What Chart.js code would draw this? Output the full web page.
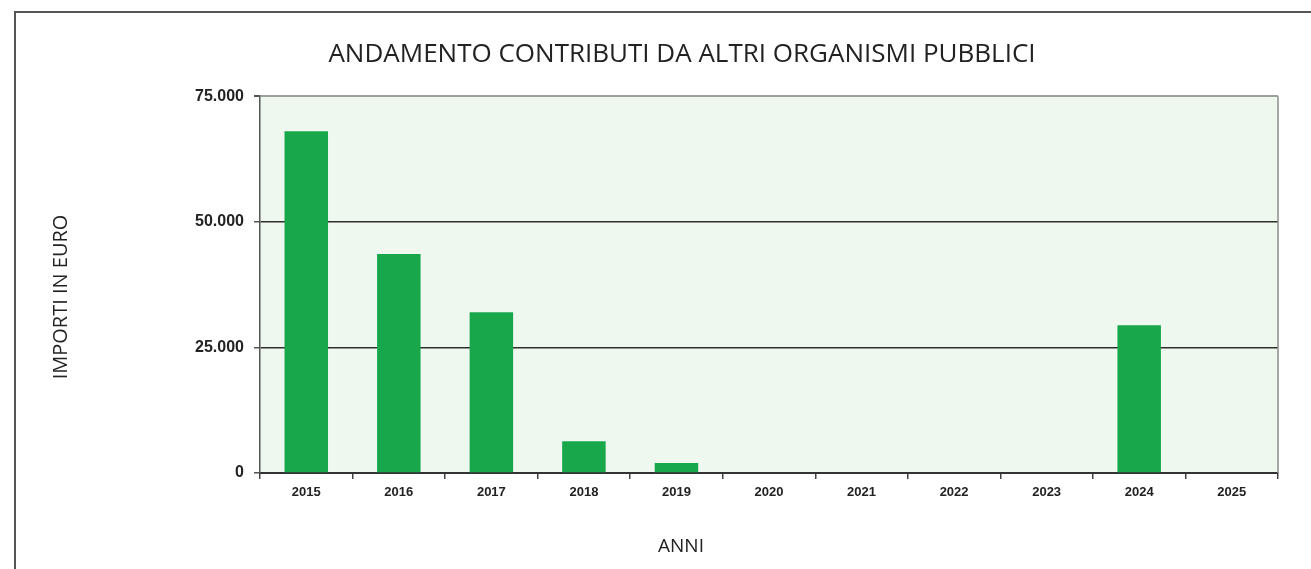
<!DOCTYPE html>
<html>
<head>
<meta charset="utf-8">
<script src="https://cdn.jsdelivr.net/npm/chart.js@4"></script>
<style>
html,body{margin:0;padding:0;background:#fff;}
canvas{display:block;}
</style>
</head>
<body>
<canvas id="c" width="1311" height="569"></canvas>
<script>
const categories = ['2015','2016','2017','2018','2019','2020','2021','2022','2023','2024','2025'];
const importi = [68000, 43600, 32000, 6300, 2000, 0, 0, 0, 0, 29400, 0];
const yTickValues = [0, 25000, 50000, 75000];
const yTickLabels = ['0', '25.000', '50.000', '75.000'];
const titleText = 'ANDAMENTO CONTRIBUTI DA ALTRI ORGANISMI PUBBLICI';
const yTitle = 'IMPORTI IN EURO';
const xTitle = 'ANNI';

const framePlugin = {
  id: 'frame',
  beforeDraw(chart) {
    const {ctx, chartArea: a} = chart;
    ctx.save();
    ctx.fillStyle = '#eef8ef';
    ctx.fillRect(a.left, a.top, a.right - a.left, a.bottom - a.top);
    // outer frame
    ctx.strokeStyle = '#555';
    ctx.lineWidth = 2;
    ctx.beginPath();
    ctx.moveTo(15, 569);
    ctx.lineTo(15, 12);
    ctx.lineTo(1311, 12);
    ctx.stroke();
    ctx.restore();
  },
  afterDraw(chart) {
    const {ctx, chartArea: a} = chart;
    ctx.save();
    ctx.strokeStyle = '#8a8f8a';
    ctx.lineWidth = 1.5;
    ctx.beginPath();
    ctx.moveTo(a.right, a.top);
    ctx.lineTo(a.right, a.bottom);
    ctx.stroke();
    // axis titles
    ctx.fillStyle = '#222';
    ctx.textAlign = 'center';
    ctx.textBaseline = 'middle';
    ctx.font = '19px "Open Sans"';
    ctx.fillText(xTitle, 681, 547);
    ctx.translate(61, 297);
    ctx.rotate(-Math.PI / 2);
    ctx.font = '20px "Open Sans"';
    ctx.fillText(yTitle, 0, 0);
    ctx.restore();
  }
};

new Chart(document.getElementById('c'), {
  type: 'bar',
  data: {
    labels: categories,
    datasets: [{
      data: importi,
      backgroundColor: '#18a84b',
      borderWidth: 0,
      barPercentage: 0.47,
      categoryPercentage: 1
    }]
  },
  options: {
    responsive: false,
    animation: false,
    layout: { padding: { left: 86, right: 33, top: 0, bottom: 0 } },
    plugins: {
      legend: { display: false },
      tooltip: { enabled: false },
      title: {
        display: true,
        text: titleText,
        color: '#222',
        font: { family: 'Open Sans', size: 26, weight: 'normal' },
        padding: { top: 39, bottom: 26 }
      }
    },
    scales: {
      x: {
        offset: true,
        afterFit(s) { s.height = 96; },
        grid: { display: true, offset: true, drawOnChartArea: false, tickLength: 6, tickColor: '#444', lineWidth: 1.5 },
        border: { display: true, color: '#333', width: 2 },
        ticks: { color: '#222', padding: 6, font: { family: 'Liberation Sans', size: 13, weight: 'bold' } },
        title: { display: false }
      },
      y: {
        min: 0,
        max: 75000,
        afterFit(s) { s.width = 174; },
        afterBuildTicks(s) { s.ticks = yTickValues.map(v => ({ value: v })); },
        grid: {
          tickLength: 6,
          tickColor: '#555',
          color: ctx => ctx.tick && ctx.tick.value === 75000 ? '#9aa09a' : '#2e2e2e',
          lineWidth: ctx => ctx.tick && ctx.tick.value === 75000 ? 2 : 1.5
        },
        border: { display: true, color: '#555', width: 1.5 },
        ticks: {
          color: '#222',
          padding: 10,
          font: { family: 'Liberation Sans', size: 16, weight: 'bold' },
          callback: v => yTickLabels[yTickValues.indexOf(v)]
        },
        title: { display: false }
      }
    }
  },
  plugins: [framePlugin]
});
</script>
</body>
</html>
